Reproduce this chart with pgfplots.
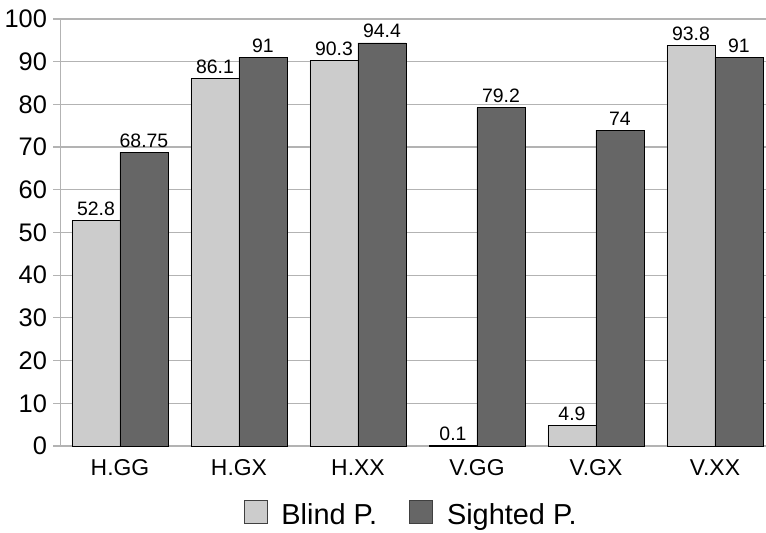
\documentclass[border=0pt]{standalone}
\usepackage{pgfplots}
\pgfplotsset{compat=1.18}
\usepackage{fontspec}
\setmainfont{Liberation Sans}
\definecolor{lightbar}{HTML}{CCCCCC}
\definecolor{darkbar}{HTML}{666666}
\definecolor{gridgray}{HTML}{B3B3B3}
\begin{document}
\begin{tikzpicture}
\begin{axis}[
  scale only axis,
  width=705.5bp, height=427bp,
  at={(0,0)}, anchor=south west,
  ybar=0pt, bar width=48bp,
  xmin=-0.5, xmax=5.429,
  ymin=0, ymax=100,
  ytick={0,10,...,100},
  xtick={0,1,2,3,4,5},
  xticklabels={H.GG,H.GX,H.XX,V.GG,V.GX,V.XX},
  axis x line=bottom, axis y line=left,
  axis line style={-, gridgray, line width=1.2bp},
  ymajorgrids, major grid style={gridgray, line width=1.2bp},
  x tick style={draw=none},
  y tick style={gridgray, line width=1.2bp},
  tick align=outside,
  major tick length=7bp,
  /pgf/number format/assume math mode=true,
  yticklabel style={font=\fontsize{25.5}{30}\selectfont, xshift=-3bp},
  xticklabel style={font=\fontsize{23}{27}\selectfont, yshift=-3bp},
  nodes near coords,
  every node near coord/.append style={font=\fontsize{19.5}{23}\selectfont, black, yshift=1bp},
  clip=false,
  legend columns=2,
  legend style={at={(0.497,-0.159)}, anchor=center, draw=none, fill=none,
    font=\fontsize{29}{34}\selectfont,
    /tikz/every odd column/.append style={column sep=12bp},
    /tikz/every even column/.append style={column sep=30bp}},
  legend image code/.code={\draw[#1, draw=black!75, line width=0.8bp] (0bp,-8bp) rectangle (23bp,15bp);},
]
\addplot[fill=lightbar, draw=black, line width=0.8bp] coordinates {(0,52.8) (1,86.1) (2,90.3) (3,0.1) (4,4.9) (5,93.8)};
\addlegendentry{Blind P.}
\addplot[fill=darkbar, draw=black, line width=0.8bp] coordinates {(0,68.75) (1,91) (2,94.4) (3,79.2) (4,74) (5,91)};
\addlegendentry{Sighted P.}
\end{axis}
\pgfresetboundingbox
\useasboundingbox (-60.5bp,-87bp) rectangle (705.5bp,446bp);
\end{tikzpicture}
\end{document}
